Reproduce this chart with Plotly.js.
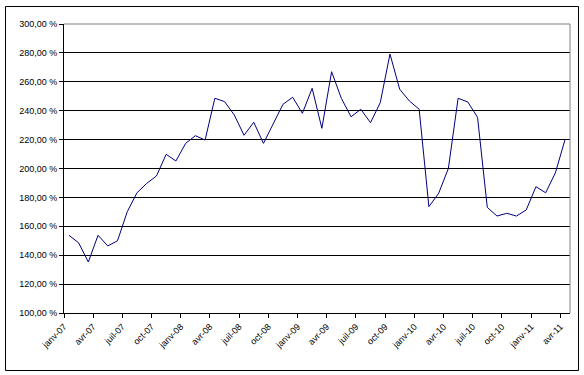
<!DOCTYPE html>
<html>
<head>
<meta charset="utf-8">
<script src="https://cdn.plot.ly/plotly-3.0.1.min.js"></script>
<style>
html,body{margin:0;padding:0;background:#fff;}
#chart{width:584px;height:375px;}
</style>
</head>
<body>
<div id="chart"></div>
<script>
// Monthly values (%), janv-07 .. avr-11
const values = [
  153.8, 148.6, 135.3, 153.8, 146.4, 150.0, 170.1, 183.2, 189.7, 194.8, 209.8, 205.2,
  217.4, 222.7, 219.7, 248.6, 246.3, 237.0, 223.0, 232.0, 217.4, 231.3, 244.4, 249.3,
  238.2, 255.5, 227.8, 267.0, 248.6, 235.8, 241.0, 231.7, 245.6, 279.2, 254.8, 246.7,
  241.0, 173.6, 182.8, 200.0, 248.6, 246.0, 235.4, 173.1, 167.1, 169.0, 167.1, 171.3,
  187.4, 183.2, 197.0, 220.2
];
const xLabels = ["janv-07","avr-07","juil-07","oct-07","janv-08","avr-08","juil-08","oct-08",
  "janv-09","avr-09","juil-09","oct-09","janv-10","avr-10","juil-10","oct-10","janv-11","avr-11"];
const yTickValues = [100,120,140,160,180,200,220,240,260,280,300];
const yTickLabels = ["100,00 %","120,00 %","140,00 %","160,00 %","180,00 %","200,00 %",
  "220,00 %","240,00 %","260,00 %","280,00 %","300,00 %"];

const xIdx = values.map((v,i)=>i);
const xTickVals = xLabels.map((l,k)=>k*3-0.5);

const trace = {
  x: xIdx, y: values, type: 'scatter', mode: 'lines',
  line: {color: '#000080', width: 1}, hoverinfo: 'skip'
};

const font = {family: 'Liberation Sans, Arial, sans-serif', size: 9, color: '#000'};

const layout = {
  width: 584, height: 375,
  margin: {l: 64, r: 14, t: 24, b: 62, pad: 0},
  paper_bgcolor: '#fff', plot_bgcolor: '#fff',
  showlegend: false,
  font: font,
  xaxis: {
    range: [-0.5, 51.5],
    tickmode: 'array', tickvals: xTickVals, ticktext: xLabels,
    tickangle: -45, ticks: 'outside', ticklen: 4, tickcolor: '#000', tickwidth: 1,
    showgrid: false, zeroline: false,
    showline: true, linecolor: '#000', linewidth: 1,
    tickfont: font, fixedrange: true
  },
  yaxis: {
    range: [100, 300],
    tickmode: 'array', tickvals: yTickValues, ticktext: yTickLabels,
    ticks: 'outside', ticklen: 4, tickcolor: '#000', tickwidth: 1,
    showgrid: true, gridcolor: '#000', gridwidth: 1,
    zeroline: false,
    showline: true, linecolor: '#000', linewidth: 1,
    tickfont: font, fixedrange: true
  },
  shapes: [
    {type: 'line', xref: 'paper', yref: 'paper', x0: 0, x1: 1, y0: 1, y1: 1,
     line: {color: '#808080', width: 1}, layer: 'above'},
    {type: 'line', xref: 'paper', yref: 'paper', x0: 1, x1: 1, y0: 0, y1: 1,
     line: {color: '#808080', width: 1}, layer: 'above'},
    {type: 'rect', xref: 'paper', yref: 'paper',
     x0: (5.5-64)/506, x1: (578.5-64)/506, y0: (313-370.5)/289, y1: (313-6.5)/289,
     line: {color: '#000', width: 1}, layer: 'above'}
  ]
};

Plotly.newPlot('chart', [trace], layout, {displayModeBar: false, staticPlot: true});
</script>
</body>
</html>
